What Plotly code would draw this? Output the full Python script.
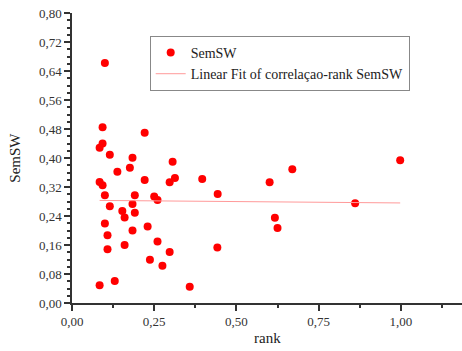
import plotly.graph_objects as go

rank = [0.100, 0.093, 0.221, 0.093, 0.084, 0.115, 0.184, 0.138, 0.176, 0.306,
        0.084, 0.093, 0.221, 0.297, 0.313, 0.396, 0.100, 0.191, 0.250, 0.260,
        0.115, 0.184, 0.153, 0.191, 0.160, 0.100, 0.230, 0.108, 0.184, 0.260,
        0.108, 0.160, 0.297, 0.237, 0.275, 0.084, 0.130, 0.358, 0.443, 0.442,
        0.601, 0.670, 0.998, 0.861, 0.617, 0.625]
semsw = [0.662, 0.485, 0.470, 0.440, 0.428, 0.409, 0.401, 0.362, 0.373, 0.390,
         0.334, 0.325, 0.339, 0.333, 0.345, 0.342, 0.297, 0.297, 0.294, 0.284,
         0.267, 0.273, 0.254, 0.249, 0.236, 0.219, 0.211, 0.187, 0.200, 0.170,
         0.148, 0.160, 0.141, 0.119, 0.103, 0.049, 0.061, 0.045, 0.301, 0.153,
         0.333, 0.369, 0.394, 0.275, 0.235, 0.207]

fit_x = [0.084, 0.998]
fit_y = [0.283, 0.276]

x_ticks = [0.0, 0.25, 0.5, 0.75, 1.0]
y_ticks = [0.0, 0.08, 0.16, 0.24, 0.32, 0.40, 0.48, 0.56, 0.64, 0.72, 0.80]

FONT = "Liberation Serif"

fig = go.Figure()
fig.add_trace(go.Scatter(
    x=rank, y=semsw, mode="markers", name="SemSW",
    marker=dict(color="#ff0000", size=8, line=dict(width=0)),
))
fig.add_trace(go.Scatter(
    x=fit_x, y=fit_y, mode="lines", name="Linear Fit of correlaçao-rank SemSW",
    line=dict(color="#ff9a9a", width=1),
))

axis_common = dict(
    showline=True, linecolor="#333333", linewidth=1.5,
    ticks="outside", ticklen=6, tickwidth=1.5, tickcolor="#333333",
    showgrid=False, zeroline=False, automargin=False,
    ticklabeloverflow="allow",
    tickfont=dict(family=FONT, size=13, color="#333333"),
)

fig.update_xaxes(
    range=[0, 1.186], tickvals=x_ticks, tickformat=".2f",
    minor=dict(ticks="outside", ticklen=3, tickwidth=1.5, tickcolor="#333333", dtick=0.125, tick0=0),
    **axis_common,
)
fig.update_yaxes(
    range=[0, 0.80], tickvals=y_ticks, tickformat=".2f",
    minor=dict(ticks="outside", ticklen=3, tickwidth=1.5, tickcolor="#333333", dtick=0.02, tick0=0),
    **axis_common,
)

fig.add_annotation(
    text="rank", xref="paper", yref="paper", x=0.5, y=-0.122,
    xanchor="center", yanchor="middle", showarrow=False,
    font=dict(family=FONT, size=15, color="#222222"),
)
fig.add_annotation(
    text="SemSW", xref="paper", yref="paper", x=-0.147, y=0.5,
    xanchor="center", yanchor="middle", showarrow=False, textangle=-90,
    font=dict(family=FONT, size=15, color="#222222"),
)

fig.update_layout(
    width=462, height=351,
    margin=dict(l=72.3, r=0, t=13.3, b=48.3, autoexpand=False),
    paper_bgcolor="white", plot_bgcolor="white",
    separators=", ",
    showlegend=True,
    legend=dict(
        x=0.1992, y=0.921, xanchor="left", yanchor="top",
        bordercolor="#888888", borderwidth=1, bgcolor="white",
        font=dict(family=FONT, size=14, color="#222222"),
        tracegroupgap=0, itemwidth=30,
    ),
)

fig.write_html(
    "out.html",
    config={"displayModeBar": False},
    post_script="document.body.style.margin='0';document.body.style.overflow='hidden';",
)
